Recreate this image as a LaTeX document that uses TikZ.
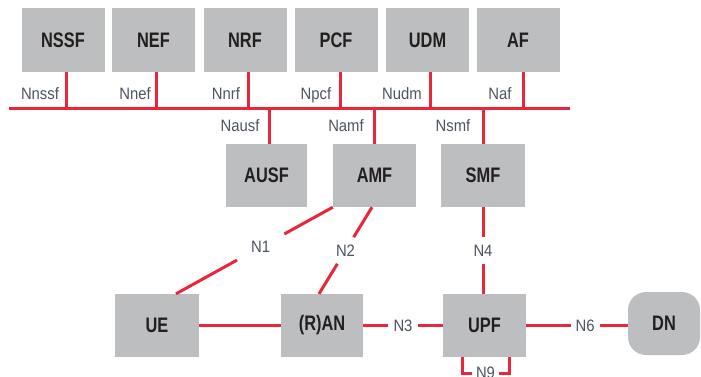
\documentclass[tikz,border=0pt]{standalone}
\usepackage{fontspec}
\setmainfont{Liberation Sans}
\newfontfamily\boxfont[FakeStretch=0.78]{Liberation Sans}
\newfontfamily\lblfont[FakeStretch=0.9]{Liberation Sans}
\usetikzlibrary{calc}
\definecolor{nfgray}{HTML}{BDBEC0}
\definecolor{ifred}{HTML}{E8273A}
\definecolor{lbltext}{HTML}{4D5462}
\definecolor{boxtext}{HTML}{231F20}
\begin{document}
\begin{tikzpicture}[x=1pt,y=-1pt,
  nf/.style={fill=nfgray, minimum width=83pt, minimum height=64pt, inner sep=0pt,
    font=\boxfont\bfseries\fontsize{21}{21}\selectfont, text=boxtext},
  nfl/.style={nf, minimum height=63pt},
  iface/.style={draw=ifred, line width=3pt},
  lbl/.style={font=\lblfont\fontsize{16.5}{16.5}\selectfont, text=lbltext, inner sep=0pt, anchor=base},
  gaplbl/.style={font=\lblfont\fontsize{16.5}{16.5}\selectfont, text=lbltext, fill=white, inner xsep=6pt, inner ysep=7pt},
  gapcirc/.style={font=\lblfont\fontsize{16.5}{16.5}\selectfont, text=lbltext, fill=white, circle, inner sep=0pt}]
\useasboundingbox (0,0) rectangle (701,376);
% top row
\node[nf] (nssf) at (63,40) {NSSF};
\node[nf] (nef) at (153.5,40) {NEF};
\node[nf] (nrf) at (245,40) {NRF};
\node[nf] (pcf) at (336,40) {PCF};
\node[nf] (udm) at (427.5,40) {UDM};
\node[nf] (af) at (518,40) {AF};
% middle row
\node[nfl, minimum width=81pt] (ausf) at (266.5,175.5) {AUSF};
\node[nfl] (amf) at (374.5,175.5) {AMF};
\node[nfl, minimum width=84pt] (smf) at (483,175.5) {SMF};
% bottom row
\node[nfl, minimum width=84pt] (ue) at (157,325.5) {UE};
\node[nfl, minimum width=82pt] (ran) at (322,325.5) {(R)AN};
\node[nfl] (upf) at (484.5,325.5) {UPF};
\node[nfl, minimum width=72pt, rounded corners=18pt] (dn) at (664,323.5) {DN};
% service bus
\coordinate (busL) at (9,108);
\coordinate (busR) at (570,108);
\draw[iface] (busL) -- (busR);
\draw[iface] ([xshift=3pt]nssf.south) -- ([xshift=3pt]nssf.south |- busL);
\draw[iface] ([xshift=2.5pt]nef.south) -- ([xshift=2.5pt]nef.south |- busL);
\draw[iface] ([xshift=3pt]nrf.south) -- ([xshift=3pt]nrf.south |- busL);
\draw[iface] ([xshift=4pt]pcf.south) -- ([xshift=4pt]pcf.south |- busL);
\draw[iface] ([xshift=2.5pt]udm.south) -- ([xshift=2.5pt]udm.south |- busL);
\draw[iface] ([xshift=5pt]af.south) -- ([xshift=5pt]af.south |- busL);
\draw[iface] ([xshift=2.5pt]ausf.north) -- ([xshift=2.5pt]ausf.north |- busL);
\draw[iface] ([xshift=-0.5pt]amf.north) -- ([xshift=-0.5pt]amf.north |- busL);
\draw[iface] (smf.north) -- (smf.north |- busL);
% service labels
\node[lbl] (lnssf) at (40,99) {Nnssf};
\node[lbl] (lnef) at (135,99) {Nnef};
\node[lbl] (lnrf) at (226,99) {Nnrf};
\node[lbl] (lnpcf) at (316,99) {Npcf};
\node[lbl] (lnudm) at (402,99) {Nudm};
\node[lbl] (lnaf) at (500,99) {Naf};
\node[lbl] (lnausf) at (240,131.5) {Nausf};
\node[lbl] (lnamf) at (346,131.5) {Namf};
\node[lbl] (lnsmf) at (453,131.5) {Nsmf};
% reference points
\draw[iface] (amf.south west) -- node[gapcirc, minimum size=54pt, pos=0.46] (n1) {N1} ([xshift=19pt]ue.north);
\draw[iface] ([xshift=-2.5pt]amf.south) -- node[gapcirc, minimum size=31pt] (n2) {N2} ([xshift=-3pt]ran.north);
\draw[iface] (ue) -- (ran);
\draw[iface] (ran) -- node[gaplbl] (n3) {N3} (upf);
\draw[iface] (upf) -- node[gaplbl, inner xsep=5pt, pos=0.58] (n6) {N6} (upf -| dn.west);
\draw[iface] (smf.south) -- node[gaplbl, inner xsep=4pt, inner ysep=7.5pt] (n4) {N4} (smf.south |- upf.north);
\coordinate (n9a) at ([xshift=-22.5pt]upf.south);
\coordinate (n9b) at ([xshift=24.5pt]upf.south);
\draw[iface] (n9a) -- ($(n9a)+(0,16)$) -- node[gaplbl, inner xsep=4pt] (n9) {N9} ($(n9b)+(0,16)$) -- (n9b);
\end{tikzpicture}
\end{document}
